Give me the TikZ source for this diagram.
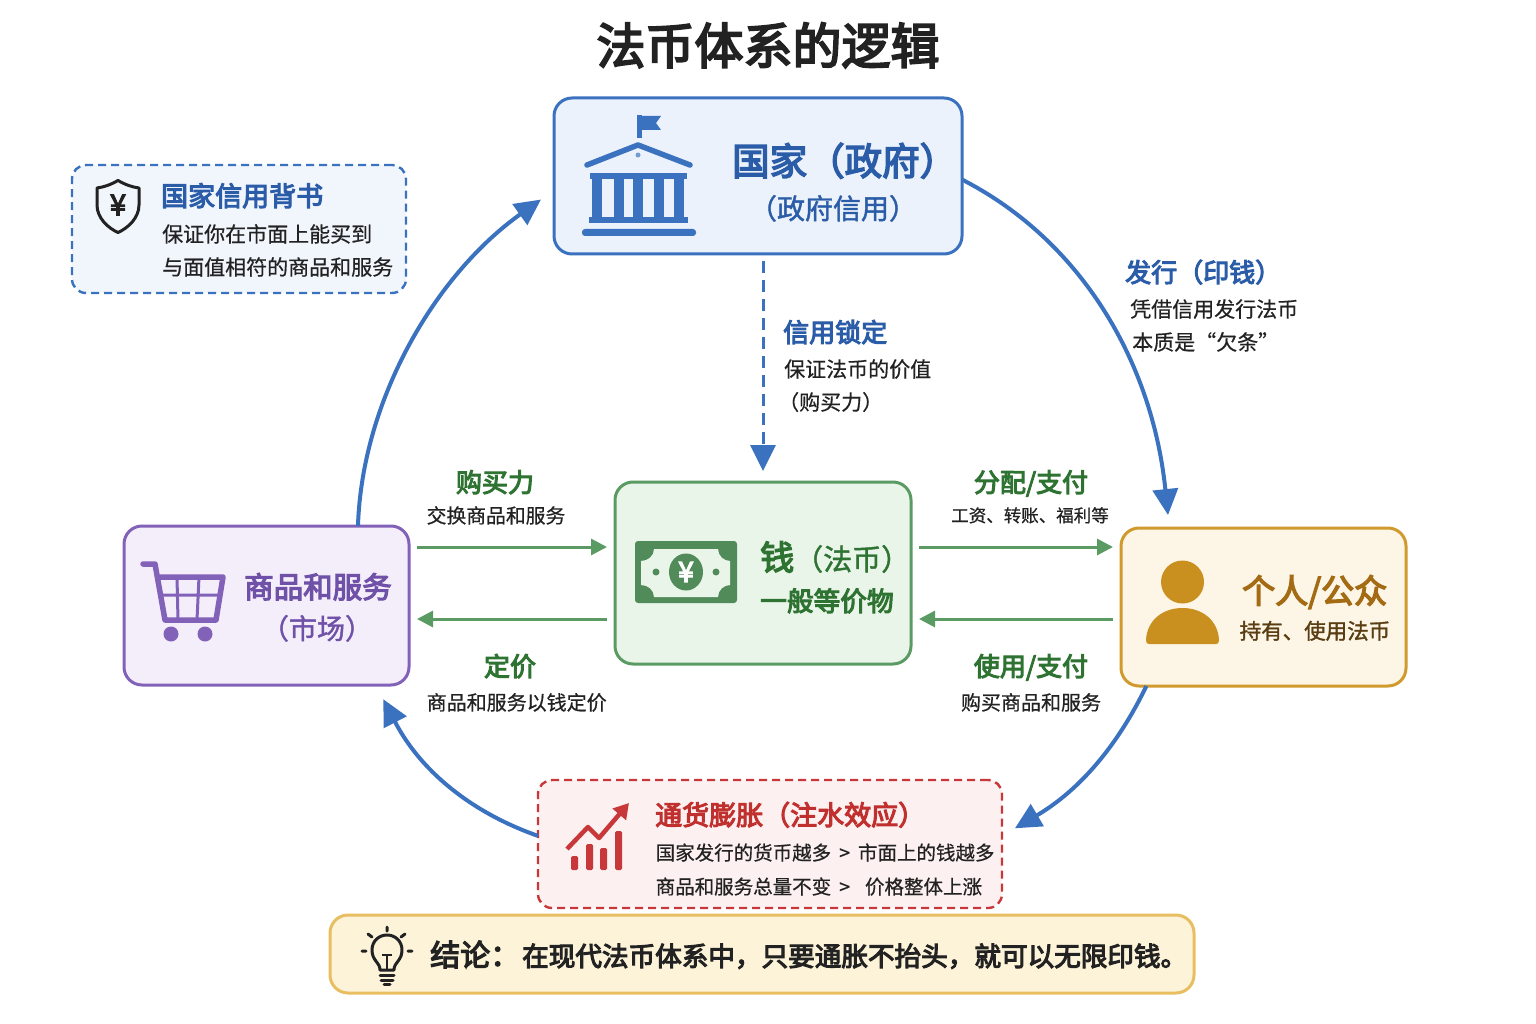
\documentclass[tikz,border=0pt]{standalone}
\usepackage{fontspec}
\setmainfont{Noto Sans CJK SC}
\newfontfamily\bodyfont[FakeBold=0.6]{Noto Sans CJK SC}
\newfontfamily\midfont[FakeBold=1.5]{Noto Sans CJK SC}
\newfontfamily\headfont[FakeBold=4]{Noto Sans CJK SC}
\usetikzlibrary{arrows.meta}
\definecolor{blueline}{HTML}{3A72C0}
\definecolor{bluetext}{HTML}{2A5CA8}
\definecolor{bluefill}{HTML}{ECF2FB}
\definecolor{notefill}{HTML}{F1F6FD}
\definecolor{greenline}{HTML}{5A9A63}
\definecolor{greentext}{HTML}{2E7332}
\definecolor{greenfill}{HTML}{E9F5E9}
\definecolor{purpleline}{HTML}{8262B8}
\definecolor{purpletext}{HTML}{6F52A8}
\definecolor{purplefill}{HTML}{F4EEFB}
\definecolor{goldline}{HTML}{D09A2C}
\definecolor{goldicon}{HTML}{C98F1F}
\definecolor{goldtext}{HTML}{A36B14}
\definecolor{goldfill}{HTML}{FDF6E6}
\definecolor{browntext}{HTML}{5A3D12}
\definecolor{redline}{HTML}{C8383A}
\definecolor{redtext}{HTML}{C0302E}
\definecolor{redfill}{HTML}{FDF0F0}
\definecolor{sandline}{HTML}{E9BE60}
\definecolor{sandfill}{HTML}{FCF3D9}
\definecolor{inktext}{HTML}{222222}
\tikzset{
	box/.style={rectangle, rounded corners=18pt, line width=3pt, outer sep=0pt, inner sep=0pt},
	tx/.style={font=\bodyfont\fontsize{#1}{#1}\selectfont, anchor=base west, inner sep=0pt, text=inktext},
	md/.style={font=\midfont\fontsize{#1}{#1}\selectfont, anchor=base west, inner sep=0pt},
	hd/.style={font=\headfont\fontsize{#1}{#1}\selectfont, anchor=base west, inner sep=0pt},
	flow/.style={line width=4pt, blueline, -{Triangle[length=26pt,width=25pt]}},
	trade/.style={line width=3pt, greenline, -{Triangle[length=16pt,width=16pt]}},
}
\begin{document}
\begin{tikzpicture}[x=1pt,y=-1pt]
	
	\useasboundingbox (0,0) rectangle (1536,1024);
	
	\node [hd=49, anchor=base, text=inktext] (title) at (768,64) {法币体系的逻辑};
	
	\node [box, draw=blueline, fill=bluefill, minimum width=408pt, minimum height=156pt] (gov) at (758,176) {};
	\node [box, draw=greenline, fill=greenfill, minimum width=296pt, minimum height=182pt] (money) at (763,573) {};
	\node [box, draw=purpleline, fill=purplefill, minimum width=285pt, minimum height=159pt] (goods) at (266.5,605.5) {};
	\node [box, draw=goldline, fill=goldfill, minimum width=285pt, minimum height=158pt] (person) at (1263.5,607) {};
	\node [box, draw=blueline, fill=notefill, line width=2.4pt, dash pattern=on 8pt off 5pt, rounded corners=14pt, minimum width=334pt, minimum height=128pt] (note) at (239,229) {};
	\node [box, draw=redline, fill=redfill, line width=2.4pt, dash pattern=on 8pt off 5pt, rounded corners=14pt, minimum width=464pt, minimum height=128pt] (infl) at (770,844) {};
	\node [box, draw=sandline, fill=sandfill, minimum width=864pt, minimum height=78pt] (result) at (762,954) {};
	
	\draw [flow, shorten >=13pt] (gov.-1.5) .. controls (1080,240) and (1152,360) .. (person.140);
	\draw [flow, shorten >=15pt] (person.214) .. controls (1118,745) and (1080,790) .. (infl.2);
	\draw [flow, shorten >=16pt] (infl.178) .. controls (470,812) and (420,770) .. (goods.-36);
	\draw [flow, shorten >=16pt] (goods.41) .. controls (362,400) and (435,275) .. (gov.184);
	
	\draw [flow, line width=3pt, dash pattern=on 12pt off 7pt, shorten <=7pt, shorten >=11pt] (money.north |- gov.south) -- (money.north);
	
	\coordinate (upper) at (0,547);
	\coordinate (lower) at (0,619);
	\draw [trade, shorten <=8pt, shorten >=8pt] (goods.east |- upper) -- (money.west |- upper);
	\draw [trade, shorten <=8pt, shorten >=8pt] (money.west |- lower) -- (goods.east |- lower);
	\draw [trade, shorten <=8pt, shorten >=8pt] (money.east |- upper) -- (person.west |- upper);
	\draw [trade, shorten <=8pt, shorten >=8pt] (person.west |- lower) -- (money.east |- lower);
	
	\node [hd=37.5, text=bluetext] (govname) at (732,175) {国家（政府）};
	\node [md=28, anchor=base, text=bluetext] (govsub) at (833,219) {（政府信用）};
	
	\node [hd=27, text=bluetext] (notehead) at (161,206) {国家信用背书};
	\node [tx=21] (noteone) at (162,242) {保证你在市面上能买到};
	\node [tx=21] (notetwo) at (162,275) {与面值相符的商品和服务};
	
	\node [hd=26, text=bluetext] (anchorhead) at (783,342) {信用锁定};
	\node [tx=21] (anchorone) at (784,377) {保证法币的价值};
	\node [tx=21] (anchortwo) at (778,410) {（购买力）};
	
	\node [hd=26, text=bluetext] (issuehead) at (1125,282) {发行（印钱）};
	\node [tx=21] (issueone) at (1130,317) {凭借信用发行法币};
	\node [tx=21] (issuetwo) at (1132,350) {本质是“欠条”};
	
	\node [hd=26, anchor=base, text=greentext] (buyhead) at (495,492) {购买力};
	\node [tx=19.8] (buytext) at (426.5,523) {交换商品和服务};
	\node [hd=26, anchor=base, text=greentext] (pricehead) at (510,676) {定价};
	\node [tx=20] (pricetext) at (426.5,710) {商品和服务以钱定价};
	\node [hd=26, anchor=base, text=greentext] (payhead) at (1031,492) {分配/支付};
	\node [tx=17.5, anchor=base] (paytext) at (1030,522) {工资、转账、福利等};
	\node [hd=26, anchor=base, text=greentext] (usehead) at (1031,676) {使用/支付};
	\node [tx=20, anchor=base] (usetext) at (1031,710) {购买商品和服务};
	
	\node [hd=29.5, anchor=base, text=purpletext] (goodsname) at (318,598) {商品和服务};
	\node [md=28, anchor=base, text=purpletext] (goodssub) at (317,639) {（市场）};
	
	\node [hd=34, text=greentext] (moneyname) at (760,570) {钱{\midfont\fontsize{29}{29}\selectfont（法币）}};
	\node [hd=26.7, text=greentext] (moneysub) at (760,611) {一般等价物};
	
	\node [hd=33, text=goldtext] (personname) at (1242,603) {个人/公众};
	\node [md=21.5, text=browntext] (personsub) at (1239.5,639) {持有、使用法币};
	
	\node [hd=27, text=redtext] (inflhead) at (655,825) {通货膨胀（注水效应）};
	\node [tx=19.5] (inflone) at (655.5,860) {国家发行的货币越多\hspace{8pt}>\hspace{8pt}市面上的钱越多};
	\node [tx=19.5] (infltwo) at (655.5,894) {商品和服务总量不变\hspace{8pt}>\hspace{15pt}价格整体上涨};
	
	\node [hd=30, text=inktext] (resulttext) at (430,966) {结论：\hspace{2pt}{\fontsize{26.6}{26.6}\selectfont 在现代法币体系中，只要通胀不抬头，就可以无限印钱。}};
	
	\fill [blueline] (637,115) rectangle (642,138);
	\fill [blueline] (642,116) -- (661,116) -- (656,123) -- (661,130) -- (642,130) -- cycle;
	\draw [blueline, line width=5.5pt, line cap=round, line join=round] (587,165) -- (638,145) -- (690,165);
	\fill [blueline!70!white] (638,155) circle (2.5);
	\fill [blueline] (590,173) rectangle (687,179);
	\foreach \colx in {592,613.5,633,653.5,674}
		\fill [blueline] (\colx,179) rectangle (\colx+10,218);
	\fill [blueline] (589,217) rectangle (688,223);
	\fill [blueline, rounded corners=3pt] (582,229) rectangle (696,236);
	
	\draw [inktext, line width=3pt, line join=round] (118,180.5) .. controls (110,185) and (104,187) .. (97,188) -- (97,205) .. controls (97,218) and (108,228) .. (118,232.5) .. controls (128,228) and (139,218) .. (139,205) -- (139,188) .. controls (132,187) and (126,185) .. (118,180.5) -- cycle;
	\node [hd=29, anchor=center, text=inktext] (shieldyen) at (118,205) {¥};
	
	\draw [purpleline, line width=5.5pt, line cap=round, line join=round] (143,564) -- (155,564) -- (165,620) -- (216,620) -- (223,577) -- (159,577);
	\draw [purpleline, line width=3pt] (161,595) -- (219,595) (177,577) -- (178,620) (199,577) -- (197,620);
	\fill [purpleline] (171,634) circle (7.5) (205,634) circle (7.5);
	
	\fill [greenline!90!black, rounded corners=3pt] (635,541) rectangle (737,603);
	\fill [greenfill] (654,549) -- (718,549) .. controls (718,556) and (724,561) .. (730,561) -- (730,585) .. controls (724,585) and (718,590) .. (718,597) -- (654,597) .. controls (654,590) and (648,585) .. (641,585) -- (641,561) .. controls (648,561) and (654,556) .. (654,549) -- cycle;
	\fill [greenline!90!black] (686,572) ellipse [x radius=17, y radius=18.5];
	\fill [greenline!90!black] (656,572) circle (3.5) (716,572) circle (3.5);
	\node [hd=28, anchor=center, text=white] (billyen) at (686,572) {¥};
	
	\fill [goldicon] (1182.5,582) circle (21.5);
	\fill [goldicon] (1146,640) .. controls (1147,620) and (1163,608) .. (1182.5,608) .. controls (1202,608) and (1218,620) .. (1219,640) .. controls (1219,643) and (1218,644) .. (1216,644) -- (1149,644) .. controls (1147,644) and (1146,643) .. (1146,640) -- cycle;
	
	\fill [redline, rounded corners=1.5pt] (571,856) rectangle (578,870);
	\fill [redline, rounded corners=1.5pt] (586,844) rectangle (593,870);
	\fill [redline, rounded corners=1.5pt] (600,848) rectangle (607,870);
	\fill [redline, rounded corners=1.5pt] (615,831) rectangle (622,870);
	\draw [redline, line width=4.5pt, line join=round, -{Triangle[length=15pt,width=17pt]}] (567,849) -- (588,827) -- (599,838) -- (629,803);
	
	\draw [inktext, line width=3pt, line join=round] (380,970) .. controls (380,962) and (372,961) .. (372,950) .. controls (372,941) and (379,935) .. (387,935) .. controls (395,935) and (402,941) .. (402,950) .. controls (402,961) and (394,962) .. (394,970) -- cycle;
	\draw [inktext, line width=2.6pt] (382,955) -- (392,955) (387,955) -- (387,969);
	\draw [inktext, line width=3pt, line cap=round] (380,975) -- (394,975) (381,980) -- (393,980) (384,984) -- (390,984);
	\draw [inktext, line width=3pt, line cap=round] (387,927) -- (387,931) (368,934) -- (372,937) (405,934) -- (401,937) (362,951) -- (366,951) (408,951) -- (412,951);
	
\end{tikzpicture}
\end{document}
